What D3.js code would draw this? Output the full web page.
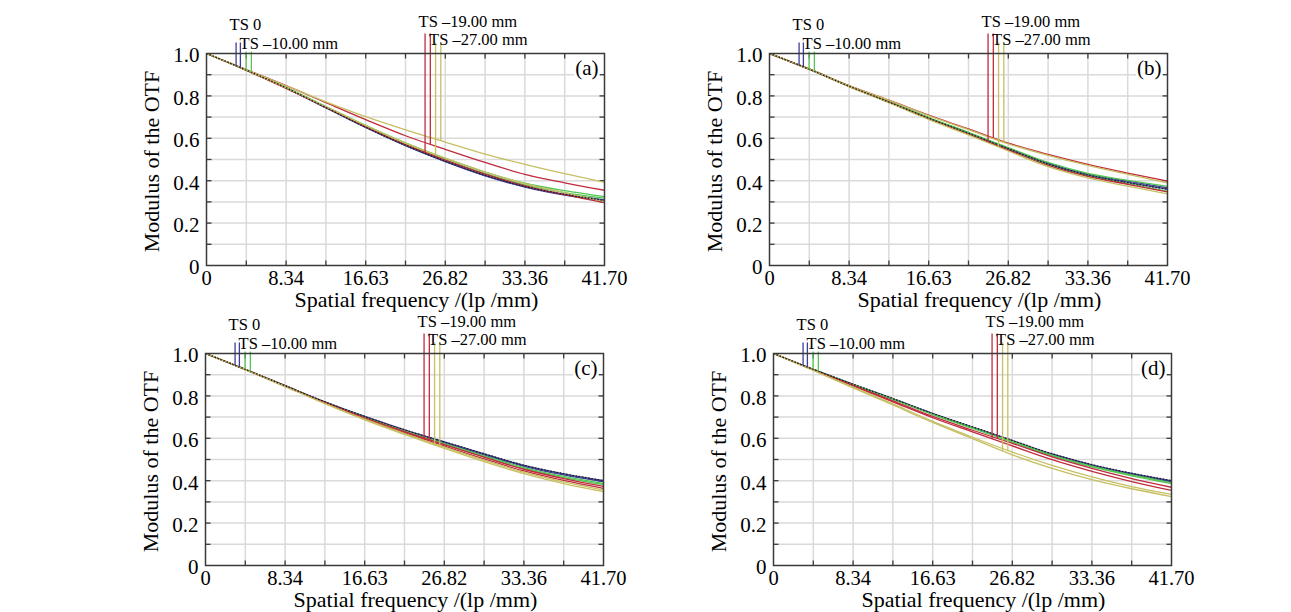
<!DOCTYPE html>
<meta charset="utf-8">
<style>

body {
  margin: 0;
  background: #fff;
  font-family: 'Liberation Serif', 'Times New Roman', serif;
}

svg {
  display: block;
}

.grid line {
  stroke: #dadada;
  stroke-width: 1.5px;
}

.frame {
  fill: none;
  stroke: #3a3a3a;
  stroke-width: 1.5px;
}

.tick-mark {
  stroke: #3a3a3a;
  stroke-width: 1.3px;
}

path.curve {
  fill: none;
  stroke-width: 1.3px;
}

</style>
<body>

<script src="https://cdnjs.cloudflare.com/ajax/libs/d3/7.8.5/d3.min.js"></script>
<script>

// spatial frequencies the curves were read at (grid lines)
var freqs = [0, 4.17, 8.34, 12.51, 16.68, 20.85, 25.02, 29.19, 33.36, 37.53, 41.70];

var xTickValues = [0, 8.34, 16.68, 25.02, 33.36, 41.70];
var xTickLabels = ["0", "8.34", "16.63", "26.82", "33.36", "41.70"];
var yTickValues = [0, 0.2, 0.4, 0.6, 0.8, 1.0];
var yTickLabels = ["0", "0.2", "0.4", "0.6", "0.8", "1.0"];

var fieldNames = ["TS 0", "TS \u201310.00 mm", "TS \u201319.00 mm", "TS \u201327.00 mm"];
// legend markers: [S, T] frequency of each drop line, and where they start
var markerFreqs = [[3.1, 3.55], [4.15, 4.7], [22.9, 23.45], [24.0, 24.55]];
var markerTops = [1.052, 1.009, 1.094, 1.052];

var seriesNames = ["diff", "ts0T", "ts0S", "ts10T", "ts10S", "ts19T", "ts19S", "ts27T", "ts27S"];

var panelA = [
  [1, .922, .838, .745, .652, .567, .492, .426, .373, .336, .307],
  [1, .922, .838, .745, .652, .566, .491, .425, .372, .335, .310],
  [1, .921, .837, .744, .651, .565, .490, .423, .370, .332, .305],
  [1, .922, .840, .750, .661, .578, .505, .441, .388, .353, .325],
  [1, .921, .838, .747, .656, .571, .498, .433, .380, .344, .318],
  [1, .924, .848, .768, .688, .612, .548, .486, .430, .390, .355],
  [1, .920, .835, .746, .655, .570, .497, .431, .376, .334, .296],
  [1, .924, .847, .772, .702, .640, .582, .525, .477, .433, .392],
  [1, .921, .838, .749, .660, .577, .506, .441, .386, .343, .302]
];

var panelB = [
  [1, .926, .846, .771, .695, .624, .551, .479, .427, .391, .360],
  [1, .926, .846, .773, .697, .626, .553, .483, .431, .398, .366],
  [1, .926, .845, .771, .694, .622, .549, .478, .426, .392, .360],
  [1, .926, .846, .774, .698, .628, .556, .486, .434, .402, .373],
  [1, .926, .845, .771, .694, .622, .547, .475, .422, .386, .350],
  [1, .927, .848, .780, .709, .644, .577, .524, .477, .436, .398],
  [1, .925, .845, .770, .692, .620, .545, .472, .420, .383, .347],
  [1, .927, .848, .779, .707, .641, .574, .520, .472, .430, .390],
  [1, .925, .844, .768, .689, .616, .540, .466, .413, .374, .338]
];

var panelC = [
  [1, .925, .848, .772, .703, .640, .583, .527, .473, .433, .401],
  [1, .925, .848, .772, .703, .640, .583, .527, .472, .432, .400],
  [1, .925, .848, .771, .701, .638, .579, .522, .468, .427, .395],
  [1, .925, .847, .770, .699, .635, .575, .517, .462, .420, .387],
  [1, .925, .847, .769, .697, .632, .571, .513, .457, .415, .382],
  [1, .925, .847, .769, .697, .632, .570, .511, .454, .410, .373],
  [1, .924, .846, .767, .693, .627, .564, .503, .446, .401, .364],
  [1, .924, .845, .765, .690, .622, .558, .497, .440, .394, .356],
  [1, .924, .844, .763, .687, .618, .552, .490, .433, .386, .348]
];

var panelD = [
  [1, .925, .855, .787, .717, .654, .590, .527, .476, .435, .401],
  [1, .925, .855, .787, .717, .653, .589, .526, .475, .434, .399],
  [1, .925, .854, .786, .716, .652, .587, .523, .472, .430, .395],
  [1, .925, .854, .785, .714, .650, .585, .521, .469, .427, .390],
  [1, .925, .853, .784, .712, .647, .582, .517, .465, .423, .386],
  [1, .924, .850, .777, .703, .638, .576, .512, .458, .410, .369],
  [1, .923, .847, .772, .697, .630, .564, .499, .444, .396, .354],
  [1, .921, .841, .762, .680, .605, .535, .472, .418, .372, .335],
  [1, .920, .838, .757, .675, .598, .522, .458, .405, .362, .325]
];

var panelNames = ["(a)", "(b)", "(c)", "(d)"];
var panelRows = [panelA, panelB, panelC, panelD];

// styling
var fieldColors = ["#3e3e98", "#55c655", "#c02a3c", "#c6bf62"];
var diffColor = "#1e1e28";
var labelDx = -6.5;
var labelDy = [-23.6, -4.3, -27, -8.3];
var layout = [
  {left: 206.5, top: 53.5},
  {left: 769.5, top: 53.5},
  {left: 205.5, top: 353.5},
  {left: 773.5, top: 353.5}
];
var width = 398, height = 212;

var svg = d3.select("body").append("svg")
    .attr("width", 1291)
    .attr("height", 612);

panelRows.forEach(function(rows, p) {
    drawPanel(rows, p);
});

function interp(values, f) {
    var i = d3.bisectRight(freqs, f) - 1;
    i = Math.max(0, Math.min(freqs.length - 2, i));
    var t = (f - freqs[i]) / (freqs[i + 1] - freqs[i]);
    return values[i] + t * (values[i + 1] - values[i]);
}

function drawPanel(rows, p) {
    var g = svg.append("g")
        .attr("transform", "translate(" + layout[p].left + "," + layout[p].top + ")");

    var x = d3.scaleLinear().domain([0, 41.7]).range([0, width]);
    var y = d3.scaleLinear().domain([0, 1]).range([height, 0]);

    var xGrid = d3.range(11).map(function(i) { return 41.7 * i / 10; });
    var yGrid = d3.range(11).map(function(i) { return i / 10; });

    var grid = g.append("g").attr("class", "grid");
    grid.selectAll("line.v")
        .data(xGrid.slice(1, -1))
        .enter().append("line")
        .attr("class", "v")
        .attr("x1", x).attr("x2", x)
        .attr("y1", 0).attr("y2", height);
    grid.selectAll("line.h")
        .data(yGrid.slice(1, -1))
        .enter().append("line")
        .attr("class", "h")
        .attr("y1", y).attr("y2", y)
        .attr("x1", 0).attr("x2", width);

    // inward tick marks on all four sides
    var ticks = g.append("g");
    xGrid.slice(1, -1).forEach(function(d) {
        ticks.append("line").attr("class", "tick-mark")
            .attr("x1", x(d)).attr("x2", x(d)).attr("y1", height).attr("y2", height - 5);
        ticks.append("line").attr("class", "tick-mark")
            .attr("x1", x(d)).attr("x2", x(d)).attr("y1", 0).attr("y2", 5);
    });
    yGrid.slice(1, -1).forEach(function(d) {
        ticks.append("line").attr("class", "tick-mark")
            .attr("y1", y(d)).attr("y2", y(d)).attr("x1", 0).attr("x2", 5);
        ticks.append("line").attr("class", "tick-mark")
            .attr("y1", y(d)).attr("y2", y(d)).attr("x1", width).attr("x2", width - 5);
    });

    // tick labels
    g.selectAll("text.xl")
        .data(xTickValues)
        .enter().append("text")
        .attr("class", "xl")
        .attr("x", x)
        .attr("y", height + 19)
        .attr("text-anchor", "middle")
        .style("font-size", "20.5px")
        .text(function(d, i) { return xTickLabels[i]; });

    g.selectAll("text.yl")
        .data(yTickValues)
        .enter().append("text")
        .attr("class", "yl")
        .attr("x", -7)
        .attr("y", function(d) { return y(d) + 1.5; })
        .attr("dy", "0.35em")
        .attr("text-anchor", "end")
        .style("font-size", "21px")
        .text(function(d, i) { return yTickLabels[i]; });

    g.append("text")
        .attr("x", width / 2 + 11)
        .attr("y", height + 41.5)
        .attr("text-anchor", "middle")
        .style("font-size", "22px")
        .text("Spatial frequency /(lp /mm)");

    g.append("text")
        .attr("transform", "translate(-47.5," + (height / 2 + 2) + ") rotate(-90)")
        .attr("text-anchor", "middle")
        .style("font-size", "22px")
        .text("Modulus of the OTF");

    // curves
    var line = d3.line()
        .x(function(d, i) { return x(freqs[i]); })
        .y(function(d) { return y(d); })
        .curve(d3.curveMonotoneX);

    var order = [1, 2, 3, 4, 5, 6, 7, 8, 0];
    order.forEach(function(k) {
        var path = g.append("path")
            .attr("class", "curve")
            .attr("d", line(rows[k]));
        if (k === 0) {
            path.attr("stroke", diffColor).attr("stroke-dasharray", "1.6,1.6");
        } else {
            path.attr("stroke", fieldColors[Math.floor((k - 1) / 2)]);
        }
    });

    // legend drop lines and field labels
    fieldNames.forEach(function(name, f) {
        var tRow = rows[1 + f * 2], sRow = rows[2 + f * 2];
        [sRow, tRow].forEach(function(row, j) {
            var fx = markerFreqs[f][j];
            g.append("line")
                .attr("x1", x(fx)).attr("x2", x(fx))
                .attr("y1", y(markerTops[f]))
                .attr("y2", y(interp(row, fx)))
                .attr("stroke", fieldColors[f])
                .attr("stroke-width", 1.3);
        });
        g.append("text")
            .attr("x", x(markerFreqs[f][0]) + labelDx)
            .attr("y", labelDy[f])
            .style("font-size", "16.5px")
            .text(name);
    });

    // panel letter on a white patch
    var lab = g.append("text")
        .attr("x", width - 6)
        .attr("y", 21)
        .attr("text-anchor", "end")
        .style("font-size", "21px")
        .text(panelNames[p]);
    var bb = lab.node().getBBox();
    g.insert("rect", function() { return lab.node(); })
        .attr("x", bb.x - 1).attr("y", bb.y)
        .attr("width", bb.width + 2).attr("height", bb.height)
        .attr("fill", "#fff");

    g.append("rect")
        .attr("class", "frame")
        .attr("width", width)
        .attr("height", height);
}

</script>
</body>
